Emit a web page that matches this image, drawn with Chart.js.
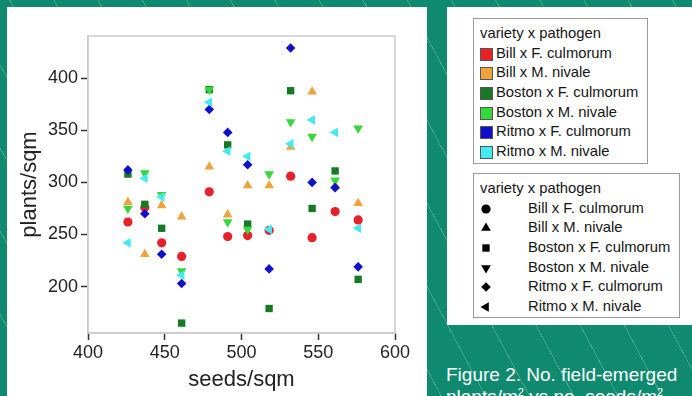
<!DOCTYPE html>
<html>
<head>
<meta charset="utf-8">
<script src="https://cdn.jsdelivr.net/npm/chart.js@4/dist/chart.umd.min.js"></script>
<style>
  html, body { margin: 0; padding: 0; }
  body {
    width: 692px; height: 396px; overflow: hidden; position: relative;
    background-color: #0f8a6f;
    background-image: repeating-linear-gradient(62deg, transparent 0 38px, rgba(255,255,255,0.22) 38px 39px);
    font-family: "Liberation Sans", Arial, sans-serif;
  }
  #chartPanel { position: absolute; left: 7px; top: 7px; width: 420px; height: 389px; background: #fff; }
  #rightPanel { position: absolute; left: 447px; top: 7px; width: 245px; height: 318px; background: #fff; }
  .legend {
    position: absolute; border: 1px solid #999; box-sizing: border-box;
    padding-top: 5px; font-size: 14.8px; line-height: 19.7px; color: #151515;
  }
  .legend .ttl { padding-left: 6px; }
  .legend .row { position: relative; height: 19.7px; white-space: nowrap; }
  #legendColor { left: 473px; top: 18px; width: 175px; height: 146px; }
  #legendColor .sw { position: absolute; left: 6px; top: 4px; width: 11px; height: 11px; border: 1px solid #555; }
  #legendColor .lbl { position: absolute; left: 22px; top: 0; }
  #legendShape { left: 473px; top: 173px; width: 207px; height: 145px; }
  #legendShape canvas { position: absolute; left: 4px; top: 1px; }
  #legendShape .lbl { position: absolute; left: 54px; top: 0; }
  #caption {
    position: absolute; left: 446px; top: 364px; color: #fff;
    font-size: 19px; line-height: 22px; white-space: nowrap;
  }
</style>
</head>
<body>
<div id="chartPanel"><canvas id="myChart" width="420" height="389"></canvas></div>
<div id="rightPanel"></div>
<div class="legend" id="legendColor"><div class="ttl">variety x pathogen</div></div>
<div class="legend" id="legendShape"><div class="ttl">variety x pathogen</div></div>
<div id="caption">Figure 2. No. field-emerged<br>plants/m<sup style="font-size:11px;line-height:0">2</sup> vs no. seeds/m<sup style="font-size:11px;line-height:0">2</sup></div>

<script>
// seeds/sqm levels (x)
const seeds = [426, 437, 448, 461, 479, 491, 504, 518, 532, 546, 561, 576];

// plants/sqm per variety x pathogen (y)
const billFc   = [262, 276, 242, 229, 291, 248, 249, 254, 306, 247, 272, 264];
const billMn   = [281, 231, 278, 267, 315, 269, 297, 297, 334, 387, 297, 280];
const bostonFc = [308, 279, 256, 165, 389, 336, 260, 179, 388, 275, 311, 207];
const bostonMn = [275, 309, 288, 215, 389, 262, 255, 308, 358, 344, 302, 352];
const ritmoFc  = [312, 270, 231, 203, 370, 348, 317, 217, 429, 300, 295, 219];
const ritmoMn  = [242, 304, 286, 211, 377, 330, 325, 255, 337, 360, 348, 256];

const seriesNames = ['Bill x F. culmorum', 'Bill x M. nivale', 'Boston x F. culmorum',
                     'Boston x M. nivale', 'Ritmo x F. culmorum', 'Ritmo x M. nivale'];
const seriesValues = [billFc, billMn, bostonFc, bostonMn, ritmoFc, ritmoMn];

const xTicks = [400, 450, 500, 550, 600];
const yTicks = [200, 250, 300, 350, 400];

// look of each series
const colors = ['#e8202a', '#f0a33a', '#167a24', '#34d838', '#1010cc', '#44eaf2'];
const shapes = [
    { pointStyle: 'circle',   radius: 4.6, rotation: 0 },
    { pointStyle: 'triangle', radius: 5.6, rotation: 0 },
    { pointStyle: 'rect',     radius: 5.2, rotation: 0 },
    { pointStyle: 'triangle', radius: 5.6, rotation: 180 },
    { pointStyle: 'rectRot',  radius: 4.8, rotation: 0 },
    { pointStyle: 'triangle', radius: 5.6, rotation: 270 },
];

const datasets = seriesNames.map((name, i) => ({
    label: name,
    data: seeds.map((s, j) => ({ x: s, y: seriesValues[i][j] })),
    pointStyle: shapes[i].pointStyle,
    pointRadius: shapes[i].radius,
    pointRotation: shapes[i].rotation,
    pointBackgroundColor: colors[i],
    pointBorderColor: colors[i],
    pointBorderWidth: 0,
    order: seriesNames.length - i,
}));

const frame = {
    id: 'frame',
    beforeDatasetsDraw(chart) {
        const { ctx, chartArea: a } = chart;
        ctx.save();
        ctx.strokeStyle = '#cdcdcd';
        ctx.lineWidth = 1.5;
        ctx.strokeRect(a.left, a.top, a.right - a.left, a.bottom - a.top);
        ctx.restore();
    }
};

const tickFont = { family: 'Liberation Sans', size: 18 };
const titleFont = { family: 'Liberation Sans', size: 22 };

new Chart(document.getElementById('myChart').getContext('2d'), {
    type: 'scatter',
    data: { datasets },
    plugins: [frame],
    options: {
        responsive: false,
        animation: false,
        events: [],
        layout: { padding: { top: 29, right: 32, left: 0, bottom: 0 } },
        plugins: { legend: { display: false }, tooltip: { enabled: false } },
        scales: {
            x: {
                type: 'linear', min: 400, max: 600,
                afterBuildTicks: (s) => { s.ticks = xTicks.map(v => ({ value: v })); },
                afterFit: (s) => { s.height = 63; },
                ticks: { font: tickFont, color: '#222', padding: 2, maxRotation: 0 },
                grid: { drawOnChartArea: false, tickLength: 7, tickColor: '#333', tickWidth: 1.5 },
                border: { color: '#c8c8c8', width: 1.5 },
                title: { display: true, text: 'seeds/sqm', font: titleFont, color: '#222', padding: { top: 0, bottom: 3 } },
            },
            y: {
                type: 'linear', min: 155.5, max: 440.5,
                afterBuildTicks: (s) => { s.ticks = yTicks.map(v => ({ value: v })); },
                afterFit: (s) => { s.width = 81; },
                ticks: { font: tickFont, color: '#222', padding: 3 },
                grid: { drawOnChartArea: false, tickLength: 7, tickColor: '#333', tickWidth: 1.5 },
                border: { color: '#c8c8c8', width: 1.5 },
                title: { display: true, text: 'plants/sqm', font: titleFont, color: '#222', padding: { top: 10, bottom: 0 } },
            }
        }
    }
});

// legends built from the same series lists
const lc = document.getElementById('legendColor');
const ls = document.getElementById('legendShape');
seriesNames.forEach((name, i) => {
    const r1 = document.createElement('div');
    r1.className = 'row';
    r1.innerHTML = '<span class="sw" style="background:' + colors[i] + '"></span><span class="lbl">' + name + '</span>';
    lc.appendChild(r1);

    const r2 = document.createElement('div');
    r2.className = 'row';
    const c = document.createElement('canvas');
    c.width = 16; c.height = 18;
    r2.appendChild(c);
    const lbl = document.createElement('span');
    lbl.className = 'lbl';
    lbl.textContent = name;
    r2.appendChild(lbl);
    ls.appendChild(r2);

    const ctx = c.getContext('2d');
    ctx.fillStyle = '#000';
    ctx.strokeStyle = '#000';
    Chart.helpers.drawPoint(ctx, {
        pointStyle: shapes[i].pointStyle,
        radius: shapes[i].radius,
        rotation: shapes[i].rotation,
        borderWidth: 0
    }, 8, 9);
});
</script>
</body>
</html>
